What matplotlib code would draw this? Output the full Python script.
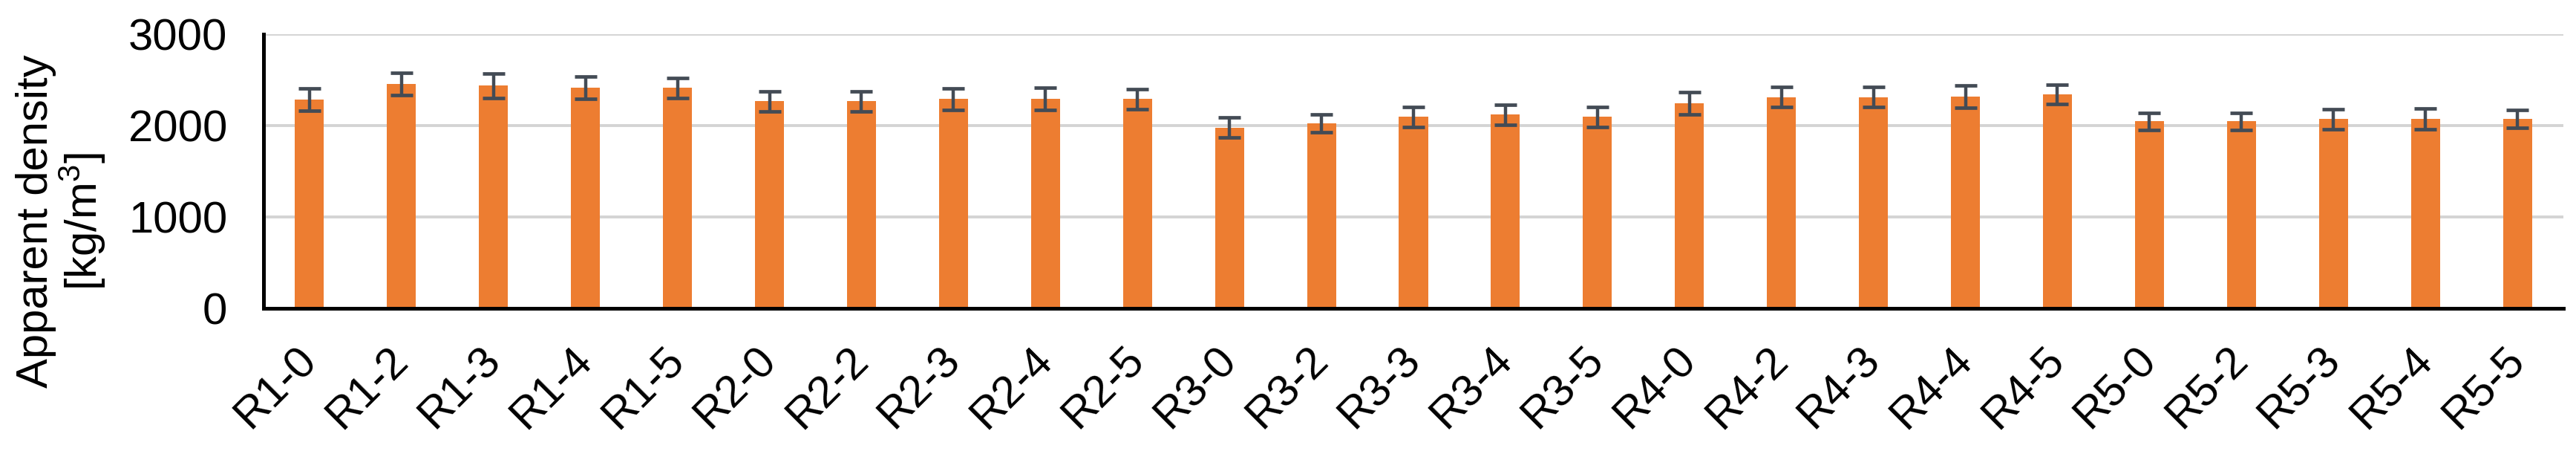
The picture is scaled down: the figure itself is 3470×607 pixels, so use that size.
import matplotlib
matplotlib.use("Agg")
import matplotlib.pyplot as plt
import numpy as np

categories = ["R1-0", "R1-2", "R1-3", "R1-4", "R1-5",
              "R2-0", "R2-2", "R2-3", "R2-4", "R2-5",
              "R3-0", "R3-2", "R3-3", "R3-4", "R3-5",
              "R4-0", "R4-2", "R4-3", "R4-4", "R4-5",
              "R5-0", "R5-2", "R5-3", "R5-4", "R5-5"]
density = [2286, 2457, 2435, 2411, 2411,
           2267, 2267, 2289, 2289, 2289,
           1977, 2023, 2096, 2118, 2096,
           2240, 2313, 2313, 2315, 2342,
           2047, 2047, 2071, 2073, 2073]
errors = [120, 122, 135, 122, 109,
          109, 111, 115, 122, 111,
          110, 98, 110, 110, 110,
          122, 109, 109, 122, 108,
          95, 95, 110, 111, 97]
y_ticks = [0, 1000, 2000, 3000]

plt.rcParams['font.family'] = ['Liberation Sans', 'DejaVu Sans']
plt.rcParams['mathtext.default'] = 'regular'

W, H, DPI = 3470, 607, 100
fig = plt.figure(figsize=(W / DPI, H / DPI), dpi=DPI)
ax = fig.add_axes([355 / W, 1 - 415 / H, (3453 - 355) / W, (415 - 46) / H])

x = np.arange(len(categories))
ax.bar(x, density, width=0.315, color='#ED7D31', zorder=2)
ax.errorbar(x, density, yerr=errors, fmt='none', ecolor='#434b55',
            elinewidth=3.2, capsize=10.5, capthick=3.4, zorder=3)

ax.set_xlim(-0.5, len(categories) - 0.5)
ax.set_ylim(0, 3000)
ax.set_yticks(y_ticks)
ax.set_yticklabels([str(v) for v in y_ticks], fontsize=43)
ax.set_xticks(x)
ax.set_xticklabels(categories, fontsize=43, rotation=45, ha='right',
                   va='center', rotation_mode='anchor')
ax.tick_params(axis='y', length=0, pad=35)
ax.tick_params(axis='x', length=0, pad=44)

ax.grid(axis='y', color='#D4D4D4', linewidth=2.8, zorder=0)
ax.set_axisbelow(True)
for s in ['top', 'right']:
    ax.spines[s].set_visible(False)
for s in ['left', 'bottom']:
    ax.spines[s].set_color('black')
    ax.spines[s].set_linewidth(3.6)
    ax.spines[s].set_zorder(4)

fig.text(83 / W, 1 - 298 / H, 'Apparent density\n[kg/m$^{3}$]', rotation=90,
         ha='center', va='center', multialignment='center', fontsize=43,
         linespacing=1.05)

fig.savefig('out.png', dpi=DPI, facecolor='white')
